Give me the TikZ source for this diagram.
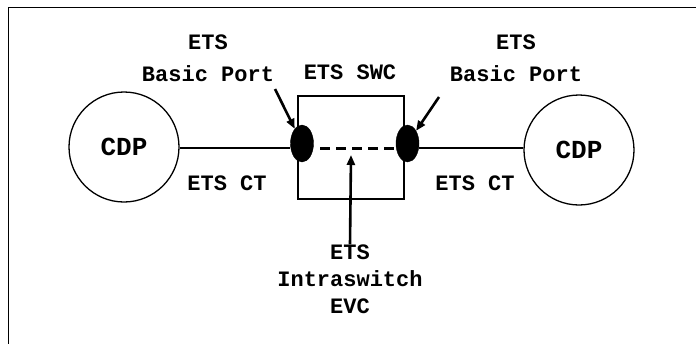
\documentclass[tikz,border=0pt]{standalone}
\usepackage{fontspec}
\setmainfont{Liberation Mono}
\usepackage{tikz}
\usetikzlibrary{positioning,arrows.meta,shapes.geometric}

\begin{document}
\begin{tikzpicture}[
  x=1pt, y=-1pt,
  font=\fontsize{22}{32}\selectfont\bfseries, >={Triangle[length=10pt,width=8pt]},
  cdp/.style={draw, circle, line width=1.3pt, minimum size=110pt, inner sep=0pt,
              font=\fontsize{26}{30}\selectfont\bfseries},
  swc/.style={draw, rectangle, line width=1.8pt, minimum width=106pt, minimum height=103pt, inner sep=0pt},
  port/.style={ellipse, fill=black, draw=black, minimum width=23pt, minimum height=37pt, inner sep=0pt},
  lbl/.style={align=center, inner sep=0pt},
  link/.style={line width=1.8pt},
  pointer/.style={->, line width=2.6pt},
]
\useasboundingbox (0,0) rectangle (696,343);
% ---- frame ----
\draw[line width=0.8pt] (8,345) -- (8,7) -- (698,7);
% ---- switch and ports ----
\node[swc] (sw) at (351,147.5) {};
\node[port] (lport) at (302,143.5) {};
\node[port] (rport) at (407.5,143.5) {};
% ---- end points ----
\node[cdp] (lcdp) at (124,147) {CDP};
\node[cdp] (rcdp) at (579,150) {CDP};
% ---- links ----
\draw[link] (lcdp.east |- 0,148) -- (lport.west |- 0,148);
\draw[link] (rport.east |- 0,148) -- (rcdp.west |- 0,148);
\draw[line width=3pt, dash pattern=on 10pt off 6pt] (320,148) -- (rport.west |- 0,148);
% ---- labels ----
\node[lbl] (lbp) at (208,58) {ETS\\Basic Port};
\node[lbl] (rbp) at (516,58) {ETS\\Basic Port};
\node[lbl] (swl) at (350,72) {ETS SWC};
\node[lbl] (lct) at (227,183) {ETS CT};
\node[lbl] (rct) at (475,183) {ETS CT};
\node[lbl, font=\fontsize{22}{27}\selectfont\bfseries] (evc) at (350,279) {ETS\\Intraswitch\\EVC};
% ---- pointers ----
\coordinate (lptail) at (275,89);
\coordinate (rptail) at (439,97);
\coordinate (evctip) at (351,155);
\draw[pointer] (lptail) -- (lport);
\draw[pointer] (rptail) -- (rport);
\draw[pointer] (evc.north) -- (evctip);
\end{tikzpicture}
\end{document}
